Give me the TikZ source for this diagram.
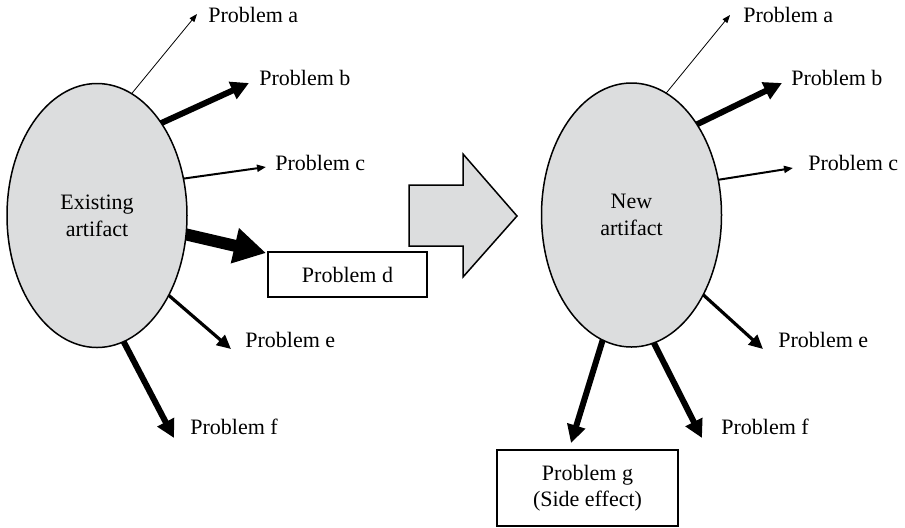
\documentclass[tikz,border=0pt]{standalone}
\usepackage{fontspec}
\setmainfont{Liberation Serif}
\usetikzlibrary{arrows.meta,shapes.geometric,backgrounds}
\definecolor{artgray}{RGB}{220,221,222}
\begin{document}
\begin{tikzpicture}[x=0.5pt,y=-0.5pt,
  artifact/.style={ellipse,draw,line width=0.75pt,fill=artgray,minimum width=90pt,
    minimum height=132pt,inner sep=0pt,align=center,font=\fontsize{11}{13.5}\selectfont},
  problbl/.style={anchor=west,inner sep=0pt,font=\fontsize{11}{13}\selectfont},
  probbox/.style={draw,line width=0.6pt,inner sep=0pt,align=center,font=\fontsize{11}{13}\selectfont},
  hairarrow/.style={line width=0.4pt,-{Triangle[length=4pt,width=3pt]},shorten <=-2pt},
  thinarrow/.style={line width=1pt,-{Triangle[length=4.5pt,width=3.5pt]},shorten <=-2pt},
  midarrow/.style={line width=1.6pt,-{Triangle[length=7pt,width=6.5pt]},shorten <=-2pt},
  boldarrow/.style={line width=3pt,-{Triangle[length=9pt,width=9pt]},shorten <=-2pt},
  heavyarrow/.style={line width=6pt,-{Triangle[length=16pt,width=17pt]},shorten <=-3pt},
  blockarrow/.style={draw,line width=0.75pt,fill=artgray,line join=miter}
]
\useasboundingbox (0,0) rectangle (905,527);

% the two artifacts
\node[artifact] (L) at (97,215.5) {Existing\\artifact};
\node[artifact] (R) at (631.5,215) {New\\artifact};

% problem labels of the existing artifact
\node[problbl] (La) at (208,15) {Problem a};
\node[problbl] (Lb) at (259,78) {Problem b};
\node[problbl] (Lc) at (275,163) {Problem c};
\node[probbox,minimum width=79.5pt,minimum height=22.5pt] (Ld) at (347.5,274.5) {Problem d};
\node[problbl] (Le) at (245,340) {Problem e};
\node[problbl] (Lf) at (190,427) {Problem f};

% problem labels of the new artifact
\node[problbl] (Ra) at (743,15) {Problem a};
\node[problbl] (Rb) at (791,78) {Problem b};
\node[problbl] (Rc) at (808,163) {Problem c};
\node[problbl] (Re) at (778,340) {Problem e};
\node[problbl] (Rf) at (721,427) {Problem f};
\node[probbox,minimum width=90.5pt,minimum height=38pt] (Rg) at (587.5,488) {Problem g\\(Side effect)};

% arrow tips
\coordinate (tLa) at (197,14);
\coordinate (tLb) at (249,83);
\coordinate (tLc) at (266,167);
\coordinate (tLd) at (266,253);
\coordinate (tLe) at (231,349);
\coordinate (tLf) at (174,438);
\coordinate (tRa) at (730,15);
\coordinate (tRb) at (782,83);
\coordinate (tRc) at (793,168);
\coordinate (tRe) at (763,349);
\coordinate (tRf) at (702,438);
\coordinate (tRg) at (571,443);

\begin{scope}[on background layer]
  \draw[hairarrow]  (L.74)    -- (tLa);
  \draw[boldarrow]  (L.55.2)  -- (tLb);
  \draw[thinarrow]  (L.23.2)  -- (tLc);
  \draw[heavyarrow] (L.-12.8) -- (tLd);
  \draw[midarrow]   (L.-48)   -- (tLe);
  \draw[boldarrow]  (L.-78.6) -- (tLf);

  \draw[hairarrow]  (R.74.5)  -- (tRa);
  \draw[boldarrow]  (R.54.6)  -- (tRb);
  \draw[thinarrow]  (R.22.4)  -- (tRc);
  \draw[midarrow]   (R.-48)   -- (tRe);
  \draw[boldarrow]  (R.-80.8) -- (tRf);
  \draw[boldarrow]  (R.-103.7) -- (tRg);
\end{scope}

% block arrow from the existing to the new artifact
\draw[blockarrow] (409,185) -- (463,185) -- (463,154) -- (517,216) -- (463,277)
  -- (463,246) -- (409,246) -- cycle;
\end{tikzpicture}
\end{document}
